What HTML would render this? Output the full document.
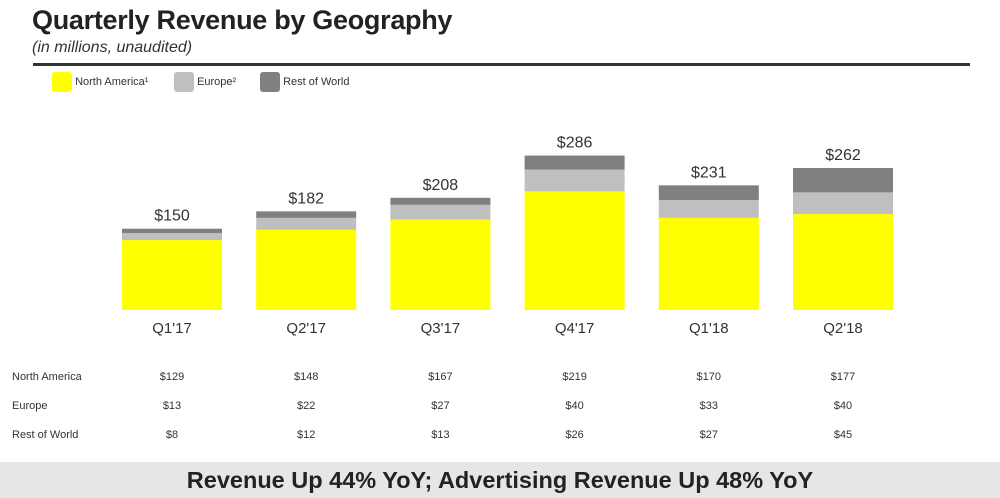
<!DOCTYPE html>
<html><head><meta charset="utf-8"><style>
body{margin:0;width:1000px;height:498px;background:#fff;font-family:"Liberation Sans",sans-serif;overflow:hidden;position:relative}
.t{position:absolute}
</style></head><body>
<div class="t" style="left:32px;top:5px;font-size:27px;font-weight:bold;color:#222;letter-spacing:-0.3px">Quarterly Revenue by Geography</div>
<div class="t" style="left:32px;top:39px;font-size:16px;font-style:italic;color:#333">(in millions, unaudited)</div>
<div class="t" style="left:33px;top:63px;width:937px;height:3px;background:#333"></div>
<div class="t" style="left:52px;top:72px;font-size:11px;color:#333">
<span style="position:absolute;left:0;top:0;white-space:nowrap"><span style="display:inline-block;width:20px;height:20px;background:#ffff00;border-radius:3px;vertical-align:middle"></span> <span style="vertical-align:middle">North America¹</span></span>
<span style="position:absolute;left:122px;top:0;white-space:nowrap"><span style="display:inline-block;width:20px;height:20px;background:#bfbfbf;border-radius:3px;vertical-align:middle"></span> <span style="vertical-align:middle">Europe²</span></span>
<span style="position:absolute;left:208px;top:0;white-space:nowrap"><span style="display:inline-block;width:20px;height:20px;background:#808080;border-radius:3px;vertical-align:middle"></span> <span style="vertical-align:middle">Rest of World</span></span>
</div>
<svg id="chart" class="t" style="left:0;top:0" width="1000" height="498"></svg>
<div class="t" style="left:0;top:462px;width:1000px;height:36px;background:#e6e6e6;text-align:center;font-size:23.5px;font-weight:bold;color:#222;line-height:36px">Revenue Up 44% YoY; Advertising Revenue Up 48% YoY</div>
<script>
const categories=["Q1'17","Q2'17","Q3'17","Q4'17","Q1'18","Q2'18"];
const northAmerica=[129,148,167,219,170,177];
const europe=[13,22,27,40,33,40];
const restOfWorld=[8,12,13,26,27,45];
const totals=[150,182,208,286,231,262];
const seriesNames=["North America","Europe","Rest of World"];
const NS="http://www.w3.org/2000/svg";
const svg=document.getElementById('chart');
const base=310, scale=0.542;
const xPos=i=>122+i*134.2, bw=100;
const y=v=>base-v*scale;
function mk(tag,attrs){const e=document.createElementNS(NS,tag);for(const k in attrs)e.setAttribute(k,attrs[k]);svg.appendChild(e);return e;}
const series=[northAmerica,europe,restOfWorld];
const colors=["#ffff00","#bfbfbf","#808080"];
categories.forEach((c,i)=>{
  let acc=0;
  series.forEach((s,k)=>{
    const r=mk('rect',{x:xPos(i),y:y(acc+s[i]),width:bw,height:s[i]*scale,fill:colors[k]});
    
    
    acc+=s[i];
  });
  const t=mk('text',{x:xPos(i)+bw/2,y:y(acc)-8,'text-anchor':'middle','font-size':16,fill:'#333','font-family':'Liberation Sans, sans-serif'});
  t.textContent='$'+totals[i];
  
  
  const l=mk('text',{x:xPos(i)+bw/2,y:333,'text-anchor':'middle','font-size':15,fill:'#333','font-family':'Liberation Sans, sans-serif'});
  l.textContent=c;
  
  
  series.forEach((s,k)=>{
    const v=mk('text',{x:xPos(i)+bw/2,y:380+k*29,'text-anchor':'middle','font-size':11,fill:'#333','font-family':'Liberation Sans, sans-serif'});
    v.textContent='$'+s[i];
    
    
  });
});
seriesNames.forEach((n,k)=>{
  const t=mk('text',{x:12,y:380+k*29,'font-size':11,fill:'#333','font-family':'Liberation Sans, sans-serif'});
  t.textContent=n;
  
  
});
</script>
</body></html>
